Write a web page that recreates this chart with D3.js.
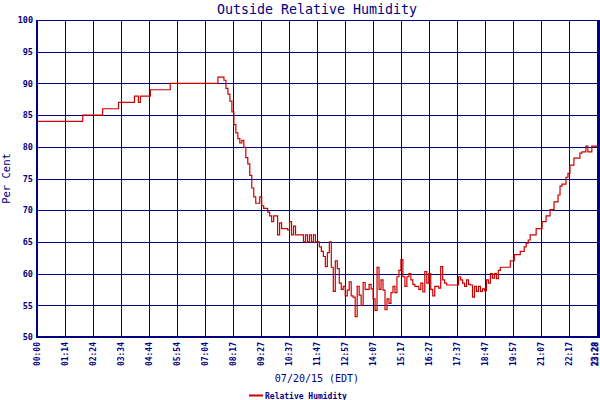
<!DOCTYPE html>
<html>
<head>
<meta charset="utf-8">
<script src="https://cdn.jsdelivr.net/npm/d3@7"></script>
<style>
  html, body { margin: 0; padding: 0; background: #fff; }
  svg { display: block; }
</style>
</head>
<body>
<svg id="chart" width="600" height="400"></svg>
<script>
// readings every 5 minutes from 00:00
const stepMinutes = 5;
const humidity = [
  84, 84, 84, 84, 84, 84, 84, 84, 84, 84,
  84, 84, 84, 84, 84, 84, 84, 84, 84, 84,
  84, 84, 84, 85, 85, 85, 85, 85, 85, 85,
  85, 85, 85, 86, 86, 86, 86, 86, 86, 86,
  86, 87, 87, 87, 87, 87, 87, 87, 87, 88,
  88, 87, 88, 88, 88, 88, 88, 89, 89, 89,
  89, 89, 89, 89, 89, 89, 89, 90, 90, 90,
  90, 90, 90, 90, 90, 90, 90, 90, 90, 90,
  90, 90, 90, 90, 90, 90, 90, 90, 90, 90,
  90, 91, 91, 91, 90.5, 89.2, 88.3, 87.2, 85.5, 83.5,
  82.2, 81.3, 80.6, 81.0, 79.9, 78.3, 77.3, 75.5, 73.5, 72.1,
  71.1, 71.1, 72.1, 70.7, 70.3, 70.3, 69.7, 69.1, 68.2, 69.1,
  69.1, 66.1, 68.0, 67.1, 67.1, 67.1, 66.9, 68.2, 66.1, 67.5,
  66.1, 66.1, 66.1, 66.1, 65.0, 66.1, 65.0, 66.1, 65.0, 66.1,
  65.0, 65.0, 64.2, 63.5, 62.7, 61.1, 63.3, 65.0, 61.0, 57.2,
  62.0, 60.8, 58.5, 57.5, 58.0, 56.5, 57.4, 58.7, 56.5, 56.3,
  53.2, 58.0, 56.6, 55.0, 58.6, 57.5, 57.5, 58.3, 57.6, 56.0,
  54.2, 61.0, 57.5, 59.0, 57.4, 54.3, 56.0, 55.3, 57.0, 58.0,
  57.0, 59.5, 60.5, 62.2, 59.5, 58.0, 59.5, 60.0, 59.0, 58.3,
  58.0, 58.0, 57.5, 58.5, 57.1, 60.3, 58.5, 60.0, 57.5, 56.5,
  58.0, 58.0, 57.7, 61.1, 59.0, 58.5, 58.2, 58.2, 58.2, 58.2,
  58.2, 58.2, 59.5, 59.0, 58.5, 58.0, 59.0, 58.3, 58.2, 56.3,
  58.0, 57.2, 58.0, 57.2, 57.6, 57.3, 59.0, 58.5, 60.0, 59.3,
  60.0, 59.2, 60.5, 61, 61, 61, 61, 61, 62, 62,
  63, 63, 63, 63.5, 63.5, 64.2, 64.8, 65.3, 66.1, 66.1,
  66.1, 67.1, 67.1, 67.1, 68.2, 68.2, 69.1, 69.1, 70.1, 70.1,
  71.3, 71.3, 72.4, 73.8, 74.1, 74.1, 75.2, 75.8, 77.1, 77.1,
  78.2, 78.2, 78.2, 79.0, 79.2, 79.2, 80.1, 79.2, 79.2, 80.1,
  80.1, 80.1, 80.1
];

// x labels sit at evenly spaced sample times
const timeLabels = ['00:00', '01:14', '02:24', '03:34', '04:44', '05:54', '07:04',
  '08:17', '09:27', '10:37', '11:47', '12:57', '14:07', '15:17', '16:27',
  '17:37', '18:47', '19:57', '21:07', '22:17', '23:28'];
const tickSpacing = 70.4;
const yTicks = [50, 55, 60, 65, 70, 75, 80, 85, 90, 95, 100];

const title = 'Outside Relative Humidity';
const xTitle = '07/20/15 (EDT)';
const yTitle = 'Per Cent';
const seriesName = 'Relative Humidity';

function createChart() {
  const node = document.getElementById('chart');
  const navy = '#000080';
  const red = '#cc0000';
  const mono = '"DejaVu Sans Mono", "Liberation Mono", monospace';

  const m = {top: 20, right: 3, bottom: 63, left: 37};
  const w = 600 - m.left - m.right;
  const h = 400 - m.top - m.bottom;

  const data = humidity.map((v, i) => ({t: i * stepMinutes, v: v}));
  const xTickVals = timeLabels.map((d, i) => i * tickSpacing);

  const x = d3.scaleLinear()
      .domain([0, tickSpacing * (timeLabels.length - 1)])
      .range([0, 560]);

  const y = d3.scaleLinear()
      .domain([50, 100])
      .range([h, 0]);

  const svg = d3.select(node);

  svg.append('text')
      .attr('x', m.left + 280)
      .attr('y', 14)
      .attr('text-anchor', 'middle')
      .attr('font-family', mono)
      .attr('font-size', '13.3px')
      .attr('fill', navy)
      .text(title);

  const g = svg.append('g')
      .attr('transform', 'translate(' + m.left + ',' + m.top + ')');

  // grid
  g.append('g')
      .selectAll('line')
      .data(yTicks)
      .enter()
      .append('line')
      .attr('x1', 0)
      .attr('x2', 560)
      .attr('y1', d => Math.round(y(d)) + 0.5)
      .attr('y2', d => Math.round(y(d)) + 0.5)
      .attr('stroke', navy)
      .attr('stroke-width', 1);

  g.append('g')
      .selectAll('line')
      .data(xTickVals)
      .enter()
      .append('line')
      .attr('x1', d => Math.round(x(d)) + 0.5)
      .attr('x2', d => Math.round(x(d)) + 0.5)
      .attr('y1', 0)
      .attr('y2', h)
      .attr('stroke', navy)
      .attr('stroke-width', 1);

  const line = d3.line()
      .curve(d3.curveStepAfter)
      .x(d => x(d.t))
      .y(d => y(d.v));

  g.append('path')
      .datum(data)
      .attr('d', line)
      .attr('fill', 'none')
      .attr('stroke', red)
      .attr('stroke-width', 1.2);

  // axes
  const xAxis = d3.axisBottom(x)
      .tickValues(xTickVals)
      .tickSize(0)
      .tickFormat((d, i) => timeLabels[i]);

  const yAxis = d3.axisLeft(y)
      .tickValues(yTicks)
      .tickSize(0)
      .tickPadding(4);

  const xa = g.append('g')
      .attr('transform', 'translate(0,' + h + ')')
      .call(xAxis);
  xa.select('.domain').remove();
  xa.selectAll('text')
      .attr('transform', 'rotate(-90)')
      .attr('x', -5)
      .attr('y', 0)
      .attr('dy', '0.32em')
      .style('text-anchor', 'end')
      .attr('font-family', mono)
      .attr('font-size', '8px')
      .attr('font-weight', 'bold')
      .attr('fill', navy);
  // last label crowds the right edge, nudge it in
  xa.selectAll('.tick:last-of-type text')
      .attr('y', -2)
      .attr('stroke', navy)
      .attr('stroke-width', 0.5);

  const ya = g.append('g').call(yAxis);
  ya.select('.domain').remove();
  ya.selectAll('text')
      .attr('font-family', mono)
      .attr('font-size', '8.5px')
      .attr('font-weight', 'bold')
      .attr('fill', navy);

  // left / bottom / right frame
  g.append('line')
      .attr('x1', 0).attr('x2', 0)
      .attr('y1', 0).attr('y2', h + 1)
      .attr('stroke', navy).attr('stroke-width', 2);
  g.append('line')
      .attr('x1', -1).attr('x2', 560)
      .attr('y1', h).attr('y2', h)
      .attr('stroke', navy).attr('stroke-width', 2);
  g.append('line')
      .attr('x1', 561.5).attr('x2', 561.5)
      .attr('y1', 0).attr('y2', h + 1)
      .attr('stroke', navy).attr('stroke-width', 3);

  svg.append('text')
      .attr('transform', 'translate(10,' + (m.top + h / 2) + ') rotate(-90)')
      .attr('text-anchor', 'middle')
      .attr('font-family', mono)
      .attr('font-size', '10.5px')
      .attr('fill', navy)
      .text(yTitle);

  svg.append('text')
      .attr('x', m.left + 280)
      .attr('y', 382)
      .attr('text-anchor', 'middle')
      .attr('font-family', mono)
      .attr('font-size', '10px')
      .attr('fill', navy)
      .text(xTitle);

  // legend
  svg.append('line')
      .attr('x1', 249).attr('x2', 263)
      .attr('y1', 395.5).attr('y2', 395.5)
      .attr('stroke', red).attr('stroke-width', 2);
  svg.append('text')
      .attr('x', 265)
      .attr('y', 398.5)
      .attr('font-family', mono)
      .attr('font-size', '8px')
      .attr('font-weight', 'bold')
      .attr('fill', navy)
      .text(seriesName);
}

createChart();
</script>
</body>
</html>
